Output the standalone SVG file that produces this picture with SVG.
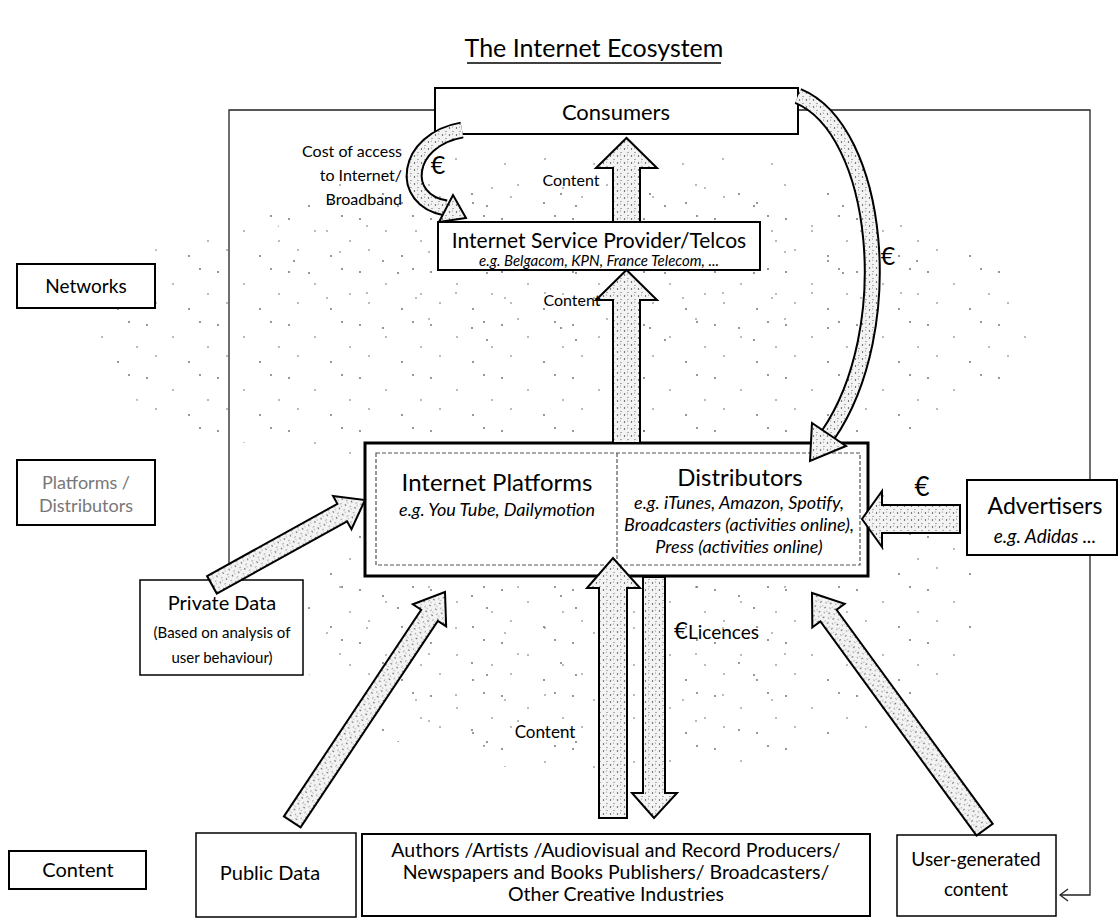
<svg xmlns="http://www.w3.org/2000/svg" width="1118" height="918" viewBox="0 0 1118 918">
<style>
.box{fill:#fff;stroke:#000;stroke-width:2}
.thick{stroke-width:3}
.thin{stroke-width:1.5}
.t{font-family:Lato,"Liberation Sans",sans-serif;fill:#000;text-anchor:middle}
.e{text-anchor:end}
.i{font-style:italic}
.g{fill:#777}
.arr{fill:url(#stip);stroke:#000;stroke-width:2;stroke-linejoin:miter}
.frame{fill:none;stroke:#222;stroke-width:1.3}
</style>
<defs>
<pattern id="stip" width="7" height="7" patternUnits="userSpaceOnUse">
<rect width="7" height="7" fill="#f3f3f3"/>
<circle cx="1.5" cy="2" r="0.7" fill="#333"/>
<circle cx="5" cy="5.5" r="0.6" fill="#555"/>
<circle cx="4.5" cy="1" r="0.5" fill="#777"/>
</pattern>
<pattern id="speckA" width="71" height="53" patternUnits="userSpaceOnUse">
<circle cx="5" cy="7" r="0.9" fill="#333"/>
<circle cx="31" cy="19" r="0.8" fill="#333"/>
<circle cx="58" cy="4" r="0.9" fill="#333"/>
<circle cx="14" cy="38" r="0.8" fill="#333"/>
<circle cx="47" cy="44" r="0.9" fill="#333"/>
<circle cx="66" cy="29" r="0.8" fill="#333"/>
</pattern>
<pattern id="speckB" width="89" height="67" patternUnits="userSpaceOnUse">
<circle cx="11" cy="25" r="0.8" fill="#333"/>
<circle cx="42" cy="5" r="0.9" fill="#333"/>
<circle cx="73" cy="51" r="0.8" fill="#333"/>
<circle cx="27" cy="60" r="0.9" fill="#333"/>
<circle cx="60" cy="30" r="0.8" fill="#333"/>
</pattern>
</defs>
<rect width="1118" height="918" fill="#fff"/>
<g id="speckle" opacity="0.75">
<ellipse cx="560" cy="330" rx="480" ry="150" fill="url(#speckA)"/>
<ellipse cx="600" cy="250" rx="330" ry="110" fill="url(#speckB)"/>
<ellipse cx="650" cy="600" rx="330" ry="170" fill="url(#speckA)"/>
<ellipse cx="560" cy="640" rx="260" ry="130" fill="url(#speckB)"/>
</g>

<g id="title">
<text class="t" x="594" y="57" font-size="25">The Internet Ecosystem</text>
<line x1="467" y1="63" x2="721" y2="63" stroke="#000" stroke-width="1.5"/>
</g>

<g id="frame">
<polyline class="frame" points="435,110 229,110 229,580"/>
<polyline class="frame" points="798,110 1090,110 1090,895 1060,895"/>
<polyline class="frame" points="1068,889 1060,895 1068,901"/>
</g>

<g id="consumers">
<rect class="box" x="435" y="88" width="363" height="46"/>
<text class="t" x="616" y="120" font-size="22">Consumers</text>
</g>

<g id="isp">
<rect class="box" x="438" y="222" width="322" height="48"/>
<text class="t" x="599" y="248" font-size="21">Internet Service Provider/Telcos</text>
<text class="t i" x="599" y="266" font-size="15">e.g. Belgacom, KPN, France Telecom, ...</text>
</g>

<g id="networks">
<rect class="box" x="17" y="264" width="138" height="44" stroke-width="2.5"/>
<text class="t" x="86" y="293" font-size="19">Networks</text>
</g>

<g id="platforms-label">
<rect class="box" x="17" y="460" width="138" height="65" stroke="#999"/>
<text class="t g" x="86" y="489" font-size="18">Platforms /</text>
<text class="t g" x="86" y="512" font-size="18">Distributors</text>
</g>

<g id="platforms-distributors">
<rect class="box thick" x="365" y="443" width="503" height="133"/>
<rect x="376" y="453" width="484" height="112" fill="none" stroke="#555" stroke-width="1.2" stroke-dasharray="4,2"/>
<line x1="617" y1="453" x2="617" y2="565" stroke="#555" stroke-width="1.2" stroke-dasharray="4,2"/>
<text class="t" x="497" y="491" font-size="24">Internet Platforms</text>
<text class="t i" x="497" y="516" font-size="18">e.g. You Tube, Dailymotion</text>
<text class="t" x="740" y="486" font-size="24">Distributors</text>
<text class="t i" x="739" y="509" font-size="18">e.g. iTunes, Amazon, Spotify,</text>
<text class="t i" x="739" y="531" font-size="18">Broadcasters (activities online),</text>
<text class="t i" x="739" y="553" font-size="18">Press (activities online)</text>
</g>

<g id="advertisers">
<rect class="box" x="967" y="480" width="150" height="75"/>
<text class="t" x="1045" y="514" font-size="23">Advertisers</text>
<text class="t i" x="1045" y="543" font-size="19">e.g. Adidas ...</text>
</g>

<g id="private-data">
<rect class="box thin" x="140" y="580" width="163" height="95"/>
<text class="t" x="222" y="610" font-size="20">Private Data</text>
<text class="t" x="222" y="638" font-size="15">(Based on analysis of</text>
<text class="t" x="222" y="663" font-size="15">user behaviour)</text>
</g>

<g id="content-label">
<rect class="box" x="9" y="851" width="137" height="38" stroke-width="2.5"/>
<text class="t" x="78" y="877" font-size="20">Content</text>
</g>

<g id="public-data">
<rect class="box thin" x="196" y="833" width="160" height="84"/>
<text class="t" x="270" y="880" font-size="20">Public Data</text>
</g>

<g id="authors">
<rect class="box" x="362" y="834" width="508" height="82" stroke-width="2.5"/>
<text class="t" x="616" y="857" font-size="19.5">Authors /Artists /Audiovisual and Record Producers/</text>
<text class="t" x="616" y="879" font-size="19.5">Newspapers and Books Publishers/ Broadcasters/</text>
<text class="t" x="616" y="901" font-size="19.5">Other Creative Industries</text>
</g>

<g id="user-generated">
<rect class="box thin" x="897" y="835" width="159" height="81"/>
<text class="t" x="976" y="866" font-size="19">User-generated</text>
<text class="t" x="976" y="896" font-size="19">content</text>
</g>

<g id="connectors">
<path d="M462 130 C405 140 398 200 446 208" fill="none" stroke="#000" stroke-width="17"/>
<path d="M462 130 C405 140 398 200 446 208" fill="none" stroke="url(#stip)" stroke-width="13"/>
<polygon class="arr" points="439,222 466,218 453,195"/>
<path d="M798 96 C880 130 900 330 828 435" fill="none" stroke="#000" stroke-width="17"/>
<path d="M798 96 C880 130 900 330 828 435" fill="none" stroke="url(#stip)" stroke-width="13"/>
<polygon class="arr" points="846,446 810,461 812,423"/>
<polygon class="arr" points="613,222 613,168 596,168 626.5,138 657,168 640,168 640,222"/>
<polygon class="arr" points="613,443 613,300 596,300 626.5,270 657,300 640,300 640,443"/>
<polygon class="arr" points="599,818 599,588 587,588 613,558 640,588 627,588 627,818"/>
<polygon class="arr" points="643,577 643,793 632,793 654,818 677,793 665,793 665,577"/>
<polygon class="arr" points="960,505 882,505 882,491 862,519 882,547 882,533 960,533"/>
<polygon class="arr" transform="translate(365,500) rotate(-29)" points="-175,-10 -26,-10 -26,-19 0,0 -26,19 -26,10 -175,10"/>
<polygon class="arr" transform="translate(445,592) rotate(-56.4)" points="-276,-10 -28,-10 -28,-20 0,0 -28,20 -28,10 -276,10"/>
<polygon class="arr" transform="translate(812,593) rotate(233.9)" points="-293,-10 -28,-10 -28,-20 0,0 -28,20 -28,10 -293,10"/>
<text class="t e" x="402" y="157" font-size="16">Cost of access</text>
<text class="t e" x="402" y="181" font-size="16">to Internet/</text>
<text class="t e" x="402" y="205" font-size="16">Broadband</text>
<text class="t" x="438" y="174" font-size="25">€</text>
<text class="t" x="571" y="186" font-size="16">Content</text>
<text class="t" x="888" y="265" font-size="25">€</text>
<text class="t" x="572" y="306" font-size="16">Content</text>
<text class="t" x="922" y="496" font-size="26">€</text>
<text class="t" x="674" y="639" font-size="19" style="text-anchor:start"><tspan font-size="24">€</tspan>Licences</text>
<text class="t" x="545" y="738" font-size="17">Content</text>
</g>
</svg>
